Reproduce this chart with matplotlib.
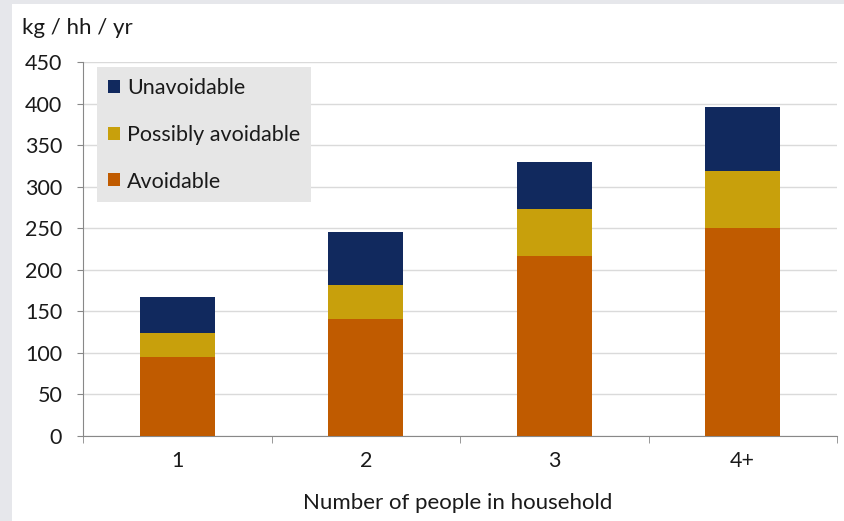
import matplotlib
matplotlib.use('Agg')
import matplotlib.pyplot as plt
import numpy as np
from matplotlib.patches import Rectangle

plt.rcParams['font.family'] = ['Lato', 'DejaVu Sans']

households = ['1', '2', '3', '4+']
avoidable = [95, 141, 217, 250]
possibly = [29, 41, 56, 69]
unavoidable = [43, 64, 57, 77]

c_avoid = '#c05b00'
c_poss = '#c8a00c'
c_unavoid = '#11295e'
txt = '#1a1a1a'

fig = plt.figure(figsize=(8.45, 5.21), dpi=100)
fig.patch.set_facecolor('#e6e7eb')
# white panel inside the gray frame, kept behind the axes
panel = Rectangle((12/845, 0), 1 - 12/845, 1 - 4/521, transform=fig.transFigure,
                  facecolor='white', edgecolor='none', zorder=-10)
fig.patches.append(panel)

ax = fig.add_axes([83/845, 1 - 436/521, 754/845, 374/521])
ax.set_facecolor('white')

x = np.arange(len(households))
w = 0.4
b1 = ax.bar(x, avoidable, w, color=c_avoid, label='Avoidable', zorder=3)
bottom2 = np.array(avoidable)
b2 = ax.bar(x, possibly, w, bottom=bottom2, color=c_poss, label='Possibly avoidable', zorder=3)
bottom3 = bottom2 + np.array(possibly)
b3 = ax.bar(x, unavoidable, w, bottom=bottom3, color=c_unavoid, label='Unavoidable', zorder=3)

ax.set_xlim(-0.5, 3.5)
ax.set_ylim(0, 450)
ax.set_yticks(range(0, 451, 50))
ax.yaxis.grid(True, color='#dadada', linewidth=1)
ax.set_axisbelow(True)

ax.set_xticks(x)
ax.set_xticklabels(households)
ax.set_xticks(np.arange(-0.5, 4, 1), minor=True)
ax.tick_params(axis='x', which='major', length=0, pad=11, labelsize=15.5, labelcolor=txt)
ax.tick_params(axis='x', which='minor', length=5, color='#888888', direction='out')
ax.tick_params(axis='y', length=4, color='#888888', labelsize=15.5, pad=11, labelcolor=txt)

for s in ['top', 'right']:
    ax.spines[s].set_visible(False)
ax.spines['left'].set_color('#888888')
ax.spines['bottom'].set_color('#888888')

fig.text(458/845, 1 - 503/521, 'Number of people in household', fontsize=16,
         ha='center', va='center', color=txt)
fig.text(22/845, 1 - 28/521, 'kg / hh / yr', fontsize=16, va='center', ha='left', color=txt)

leg = ax.legend([b3, b2, b1], ['Unavoidable', 'Possibly avoidable', 'Avoidable'],
                loc='upper left', bbox_to_anchor=(14/754, 1 - 5/374), fontsize=15.5,
                frameon=True, fancybox=False, handlelength=0.55, handleheight=0.55,
                labelspacing=1.25, borderpad=0.5, handletextpad=0.35, borderaxespad=0,
                labelcolor=txt)
leg.get_frame().set_facecolor('#e6e6e6')
leg.get_frame().set_edgecolor('none')
leg.get_frame().set_alpha(1)

fig.savefig('out.png', dpi=100, facecolor=fig.get_facecolor())
